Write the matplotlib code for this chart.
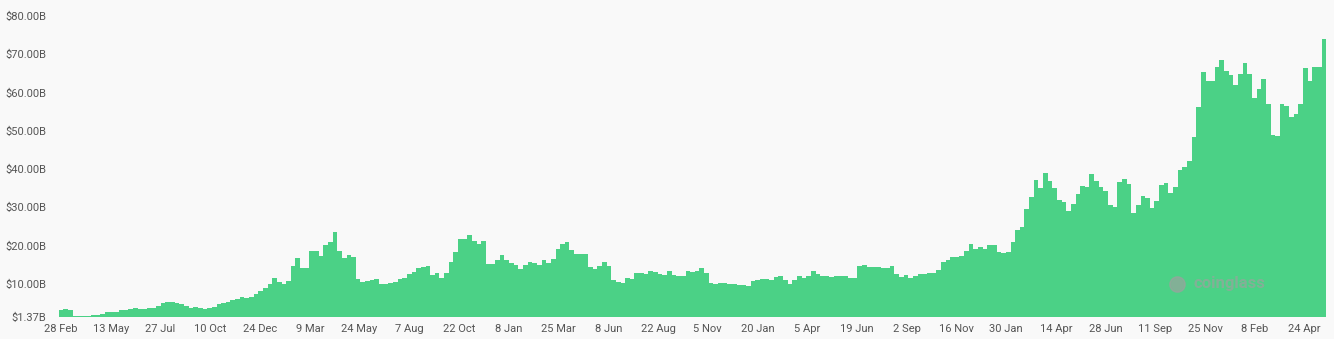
import numpy as np
import matplotlib.pyplot as plt

# open interest in billions USD, one value per week starting 28 Feb
oi_values = [
    3.2, 3.4, 3.0, 1.55, 1.5, 1.5, 1.6, 1.7, 1.9, 2.1,
    2.6, 2.5, 2.7, 3.0, 3.2, 3.3, 3.5, 3.4, 3.3, 3.5,
    3.7, 4.1, 4.9, 5.2, 5.1, 5.0, 4.8, 4.2, 3.7, 3.8,
    3.6, 3.4, 3.6, 3.9, 4.6, 4.9, 5.2, 5.6, 6.0, 6.5,
    6.2, 6.5, 7.3, 8.2, 8.8, 10.0, 11.6, 10.3, 9.9, 10.6,
    14.6, 16.7, 14.2, 14.2, 18.5, 18.5, 17.2, 20.1, 21.0, 23.6,
    18.5, 16.8, 17.5, 16.9, 11.2, 10.4, 10.6, 11.0, 11.3, 9.9,
    10.0, 10.2, 10.5, 11.3, 11.4, 12.4, 13.1, 14.0, 14.4, 14.6,
    12.3, 12.9, 11.5, 12.7, 15.7, 18.3, 21.7, 21.6, 22.8, 21.1,
    20.5, 21.1, 15.2, 15.1, 16.2, 17.6, 16.3, 15.4, 15.0, 13.9,
    15.0, 15.6, 15.5, 15.0, 16.1, 15.3, 16.5, 19.0, 20.4, 20.8,
    18.7, 17.8, 17.7, 17.8, 14.3, 13.9, 14.5, 15.6, 14.6, 11.0,
    10.5, 10.2, 11.5, 11.2, 12.8, 12.8, 12.6, 13.2, 13.0, 12.4,
    12.3, 13.2, 12.2, 11.9, 12.0, 13.4, 13.0, 13.2, 14.1, 12.8,
    10.2, 10.0, 10.1, 10.2, 10.0, 9.8, 9.6, 9.6, 9.5, 10.6,
    11.0, 11.2, 11.2, 10.9, 11.8, 11.9, 11.0, 9.8, 10.9, 12.1,
    11.6, 12.0, 13.4, 12.4, 11.9, 11.9, 11.8, 11.9, 12.1, 12.0,
    11.6, 11.5, 14.5, 14.9, 14.3, 14.4, 14.3, 14.2, 14.2, 14.5,
    12.5, 11.7, 12.3, 11.4, 11.9, 12.4, 12.4, 12.7, 12.9, 13.7,
    15.7, 16.2, 17.0, 17.0, 17.3, 18.6, 20.3, 19.0, 19.5, 19.1,
    20.0, 20.1, 18.2, 18.0, 18.2, 20.8, 24.0, 24.8, 29.5, 32.8,
    37.0, 35.0, 39.0, 36.8, 35.0, 32.0, 31.4, 29.0, 30.9, 33.4,
    35.6, 35.4, 38.6, 36.9, 35.3, 34.3, 30.5, 30.0, 36.5, 37.3,
    36.0, 28.5, 30.6, 33.0, 32.5, 29.8, 31.5, 35.9, 36.4, 33.7,
    35.2, 39.8, 40.4, 42.0, 48.3, 56.2, 65.5, 62.9, 62.9, 66.8,
    68.5, 65.7, 64.5, 62.0, 64.8, 67.6, 64.8, 58.6, 60.8, 63.5,
    57.0, 49.0, 48.5, 57.0, 56.5, 53.5, 54.5, 56.9, 66.5, 63.0,
    66.6, 66.8, 74.0,
]
step_days = 7

date_labels = [
    "28 Feb", "13 May", "27 Jul", "10 Oct", "24 Dec", "9 Mar", "24 May",
    "7 Aug", "22 Oct", "8 Jan", "25 Mar", "8 Jun", "22 Aug", "5 Nov",
    "20 Jan", "5 Apr", "19 Jun", "2 Sep", "16 Nov", "30 Jan", "14 Apr",
    "28 Jun", "11 Sep", "25 Nov", "8 Feb", "24 Apr",
]
label_step_days = 75

y_ticks = [1.37, 10, 20, 30, 40, 50, 60, 70, 80]

bg = "#f9f9f9"
green = "#4bd186"
text_color = "#555555"

plt.rcParams['font.family'] = ['Roboto', 'DejaVu Sans']

fig = plt.figure(figsize=(13.34, 3.39), dpi=100, facecolor=bg)
ax = fig.add_axes([0.044, 0.066, 0.9502, 0.8865], facecolor=bg)

days = np.arange(len(oi_values)) * step_days
ax.bar(days, oi_values, width=step_days, color=green, linewidth=0)

ax.set_xlim(-step_days / 2, days[-1] + step_days / 2)
ax.set_ylim(1.37, 80)

ax.set_xticks(np.arange(len(date_labels)) * label_step_days)
ax.set_xticklabels(date_labels)
ax.set_yticks(y_ticks)
ax.set_yticklabels(["${:.2f}B".format(v) for v in y_ticks])

ax.tick_params(axis='both', length=0, labelsize=8, colors=text_color)
ax.tick_params(axis='y', pad=9)
ax.tick_params(axis='x', pad=5)
for s in ax.spines.values():
    s.set_visible(False)

# watermark
ax.plot([0.882], [0.11], marker='o', markersize=11, color='#9aa39e', alpha=0.7,
        transform=ax.transAxes)
ax.text(0.895, 0.11, "coinglass", transform=ax.transAxes, fontsize=12,
        fontweight='bold', color='#9aa39e', alpha=0.7, ha='left', va='center')

fig.savefig("out.png", dpi=100, facecolor=bg)
